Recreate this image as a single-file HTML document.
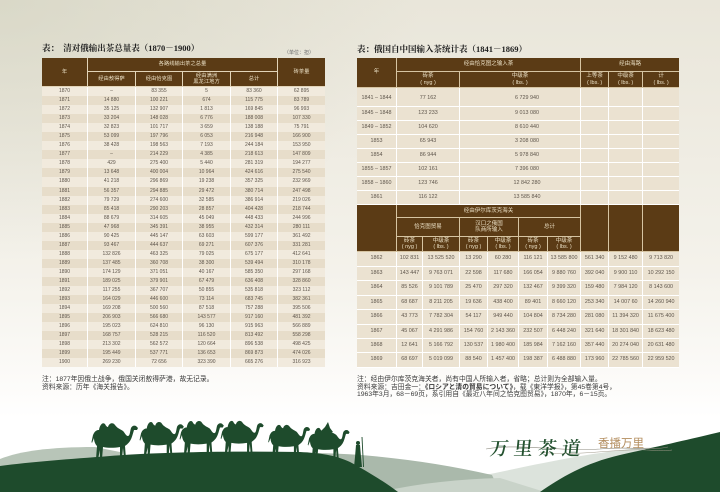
<!DOCTYPE html>
<html><head><meta charset="utf-8">
<style>
html,body{margin:0;padding:0}
body{width:720px;height:492px;overflow:hidden;position:relative;
background:
radial-gradient(ellipse 420px 260px at 0% 0%, rgba(205,205,185,0.55), rgba(205,205,185,0) 100%),
linear-gradient(180deg,#e9e6da 0%,#eeebe1 25%,#f4f2eb 55%,#fbfaf7 75%,#ffffff 85%,#ffffff 100%);
font-family:"Liberation Sans","Noto Sans CJK SC",sans-serif;}
.title{position:absolute;font-family:"Liberation Serif","Noto Serif CJK SC",serif;font-weight:bold;font-size:8.5px;color:#1e1e1e;white-space:nowrap;line-height:1}
table{position:absolute;border-collapse:separate;border-spacing:0;table-layout:fixed}
td,th{padding:0;text-align:center;vertical-align:middle;line-height:1;overflow:hidden;white-space:nowrap;font-weight:normal}
th{background:#5b3b15;color:#eadfc4}
#L th{font-size:5.3px;border-right:1px solid #e2d4b8;border-bottom:1px solid #e2d4b8;line-height:1.15}
#L th.lr{border-right:0}
#L td{font-size:5px;color:#5e554b;border-right:1px solid #fff}
#L td:last-child{border-right:0}
#L tr.a td{background:#f1eadd}
#L tr.b td{background:#e7ddca}
#L tr.d{height:9.05px}
.R th{font-size:5.5px;border-right:1px solid #d6c4a2;border-bottom:1px solid #d6c4a2;line-height:1.2}
.R th.lr{border-right:0}
.R td{font-size:5.4px;color:#5e554b;background:#ebe2d1;border-right:1px solid #fff;border-bottom:1px solid #fff}
.R td:last-child{border-right:0}
#R1 tr.d{height:14.05px}
#R1 tr.f{height:19px}
#R1 tr.f td{padding-top:4px}
#R2 tr.d{height:14.45px}
.note{position:absolute;font-size:6.8px;line-height:7.7px;color:#3a3a3a;white-space:nowrap}
</style></head><body>

<div class="title" style="left:42px;top:43.5px">表：&nbsp;&nbsp;清对俄输出茶总量表（1870－1900）</div>
<div style="position:absolute;left:284px;top:50.5px;font-size:5px;color:#6a6a6a;white-space:nowrap;line-height:1">（单位：担）</div>
<div class="title" style="left:357px;top:44.5px">表：俄国自中国输入茶统计表（1841－1869）</div>

<table id="L" style="left:42px;top:58px;width:283px">
<colgroup><col style="width:46px"><col style="width:48px"><col style="width:47px"><col style="width:48px"><col style="width:47px"><col style="width:47px"></colgroup>
<tr style="height:14px"><th rowspan="2">年</th><th colspan="4">各路线输出茶之总量</th><th rowspan="2" class="lr">砖茶量</th></tr>
<tr style="height:15px"><th>经由敖得萨</th><th>经由恰克图</th><th>经由满洲<br>黑龙江地方</th><th>总计</th></tr>
<tr class="d a"><td>1870</td><td>–</td><td>83 355</td><td>5</td><td>83 360</td><td>62 895</td></tr>
<tr class="d b"><td>1871</td><td>14 880</td><td>100 221</td><td>674</td><td>115 775</td><td>83 789</td></tr>
<tr class="d a"><td>1872</td><td>35 125</td><td>132 907</td><td>1 813</td><td>169 845</td><td>96 993</td></tr>
<tr class="d b"><td>1873</td><td>33 204</td><td>148 028</td><td>6 776</td><td>188 008</td><td>107 330</td></tr>
<tr class="d a"><td>1874</td><td>32 823</td><td>101 717</td><td>3 659</td><td>138 188</td><td>75 791</td></tr>
<tr class="d b"><td>1875</td><td>53 099</td><td>197 796</td><td>6 053</td><td>216 948</td><td>166 900</td></tr>
<tr class="d a"><td>1876</td><td>38 428</td><td>198 563</td><td>7 193</td><td>244 184</td><td>153 950</td></tr>
<tr class="d b"><td>1877</td><td>–</td><td>214 229</td><td>4 385</td><td>218 613</td><td>147 809</td></tr>
<tr class="d a"><td>1878</td><td>429</td><td>275 400</td><td>5 440</td><td>281 319</td><td>194 277</td></tr>
<tr class="d b"><td>1879</td><td>13 648</td><td>400 004</td><td>10 964</td><td>424 616</td><td>275 540</td></tr>
<tr class="d a"><td>1880</td><td>41 218</td><td>296 869</td><td>19 238</td><td>357 325</td><td>232 969</td></tr>
<tr class="d b"><td>1881</td><td>56 357</td><td>294 885</td><td>29 472</td><td>380 714</td><td>247 498</td></tr>
<tr class="d a"><td>1882</td><td>79 729</td><td>274 600</td><td>32 585</td><td>386 914</td><td>219 026</td></tr>
<tr class="d b"><td>1883</td><td>85 418</td><td>290 203</td><td>28 857</td><td>404 428</td><td>218 744</td></tr>
<tr class="d a"><td>1884</td><td>88 679</td><td>314 605</td><td>45 049</td><td>448 433</td><td>244 996</td></tr>
<tr class="d b"><td>1885</td><td>47 968</td><td>345 391</td><td>38 955</td><td>432 314</td><td>280 111</td></tr>
<tr class="d a"><td>1886</td><td>90 425</td><td>445 147</td><td>63 603</td><td>599 177</td><td>361 492</td></tr>
<tr class="d b"><td>1887</td><td>93 467</td><td>444 637</td><td>69 271</td><td>607 376</td><td>331 281</td></tr>
<tr class="d a"><td>1888</td><td>132 826</td><td>463 325</td><td>79 025</td><td>675 177</td><td>412 641</td></tr>
<tr class="d b"><td>1889</td><td>137 485</td><td>360 708</td><td>38 300</td><td>539 494</td><td>310 178</td></tr>
<tr class="d a"><td>1890</td><td>174 129</td><td>371 051</td><td>40 167</td><td>585 350</td><td>297 168</td></tr>
<tr class="d b"><td>1891</td><td>189 025</td><td>379 901</td><td>67 479</td><td>636 408</td><td>328 860</td></tr>
<tr class="d a"><td>1892</td><td>117 255</td><td>367 707</td><td>50 855</td><td>535 818</td><td>323 112</td></tr>
<tr class="d b"><td>1893</td><td>164 029</td><td>446 600</td><td>73 114</td><td>683 745</td><td>382 361</td></tr>
<tr class="d a"><td>1894</td><td>169 208</td><td>500 560</td><td>87 518</td><td>757 288</td><td>395 506</td></tr>
<tr class="d b"><td>1895</td><td>206 903</td><td>566 680</td><td>143 577</td><td>917 160</td><td>481 392</td></tr>
<tr class="d a"><td>1896</td><td>195 023</td><td>624 810</td><td>96 130</td><td>915 963</td><td>566 889</td></tr>
<tr class="d b"><td>1897</td><td>168 757</td><td>528 215</td><td>116 520</td><td>813 492</td><td>558 298</td></tr>
<tr class="d a"><td>1898</td><td>213 302</td><td>562 572</td><td>120 664</td><td>896 538</td><td>498 425</td></tr>
<tr class="d b"><td>1899</td><td>195 449</td><td>537 771</td><td>136 653</td><td>869 873</td><td>474 026</td></tr>
<tr class="d a"><td>1900</td><td>269 230</td><td>72 656</td><td>323 390</td><td>665 276</td><td>316 923</td></tr>
</table>

<table id="R1" class="R" style="left:357px;top:58px;width:322px">
<colgroup><col style="width:40px"><col style="width:26px"><col style="width:37px"><col style="width:28px"><col style="width:31px"><col style="width:29px"><col style="width:33px"><col style="width:28px"><col style="width:34px"><col style="width:36px"></colgroup>
<tr style="height:14px"><th rowspan="2">年</th><th colspan="6">经由恰克图之输入茶</th><th colspan="3" class="lr">经由海路</th></tr>
<tr style="height:16px"><th colspan="2">砖茶<br>( nyg )</th><th colspan="4">中级茶<br>( lbs. )</th><th>上等茶<br>( lbs. )</th><th>中级茶<br>( lbs. )</th><th class="lr">计<br>( lbs. )</th></tr>
<tr class="f"><td>1841 – 1844</td><td colspan="2">77 162</td><td colspan="4" style="padding-left:14px">6 729 940</td><td></td><td></td><td></td></tr>
<tr class="d"><td>1845 – 1848</td><td colspan="2">123 233</td><td colspan="4" style="padding-left:14px">9 013 080</td><td></td><td></td><td></td></tr>
<tr class="d"><td>1849 – 1852</td><td colspan="2">104 620</td><td colspan="4" style="padding-left:14px">8 610 440</td><td></td><td></td><td></td></tr>
<tr class="d"><td>1853</td><td colspan="2">65 943</td><td colspan="4" style="padding-left:14px">3 208 080</td><td></td><td></td><td></td></tr>
<tr class="d"><td>1854</td><td colspan="2">86 944</td><td colspan="4" style="padding-left:14px">5 978 840</td><td></td><td></td><td></td></tr>
<tr class="d"><td>1855 – 1857</td><td colspan="2">102 161</td><td colspan="4" style="padding-left:14px">7 396 080</td><td></td><td></td><td></td></tr>
<tr class="d"><td>1858 – 1860</td><td colspan="2">123 746</td><td colspan="4" style="padding-left:14px">12 842 280</td><td></td><td></td><td></td></tr>
<tr class="d"><td>1861</td><td colspan="2">116 122</td><td colspan="4" style="padding-left:14px">13 585 840</td><td></td><td></td><td></td></tr>
</table>

<table id="R2" class="R" style="left:357px;top:205.4px;width:322px">
<colgroup><col style="width:40px"><col style="width:26px"><col style="width:37px"><col style="width:28px"><col style="width:31px"><col style="width:29px"><col style="width:33px"><col style="width:28px"><col style="width:34px"><col style="width:36px"></colgroup>
<tr style="height:13px"><th rowspan="3"></th><th colspan="6">经由伊尔库茨克海关</th><th rowspan="3"></th><th rowspan="3"></th><th rowspan="3" class="lr"></th></tr>
<tr style="height:19px"><th colspan="2">恰克图贸易</th><th colspan="2">汉口之俄国<br>队商所输入</th><th colspan="2">总计</th></tr>
<tr style="height:15px"><th>砖茶<br>( nyg )</th><th>中级茶<br>( lbs. )</th><th>砖茶<br>( nyg )</th><th>中级茶<br>( lbs. )</th><th>砖茶<br>( nyg )</th><th>中级茶<br>( lbs. )</th></tr>
<tr class="d"><td>1862</td><td>102 831</td><td>13 525 520</td><td>13 290</td><td>60 280</td><td>116 121</td><td>13 585 800</td><td>561 340</td><td>9 152 480</td><td>9 713 820</td></tr>
<tr class="d"><td>1863</td><td>143 447</td><td>9 763 071</td><td>22 598</td><td>117 680</td><td>166 054</td><td>9 880 760</td><td>392 040</td><td>9 900 110</td><td>10 292 150</td></tr>
<tr class="d"><td>1864</td><td>85 526</td><td>9 101 789</td><td>25 470</td><td>297 320</td><td>132 467</td><td>9 399 320</td><td>159 480</td><td>7 984 120</td><td>8 143 600</td></tr>
<tr class="d"><td>1865</td><td>68 687</td><td>8 211 205</td><td>19 636</td><td>438 400</td><td>89 401</td><td>8 660 120</td><td>253 340</td><td>14 007 60</td><td>14 260 940</td></tr>
<tr class="d"><td>1866</td><td>43 773</td><td>7 782 304</td><td>54 117</td><td>949 440</td><td>104 804</td><td>8 734 280</td><td>281 080</td><td>11 394 320</td><td>11 675 400</td></tr>
<tr class="d"><td>1867</td><td>45 067</td><td>4 291 986</td><td>154 760</td><td>2 143 360</td><td>232 507</td><td>6 448 240</td><td>321 640</td><td>18 301 840</td><td>18 623 480</td></tr>
<tr class="d"><td>1868</td><td>12 641</td><td>5 166 792</td><td>130 537</td><td>1 980 400</td><td>185 984</td><td>7 162 160</td><td>357 440</td><td>20 274 040</td><td>20 631 480</td></tr>
<tr class="d"><td>1869</td><td>68 697</td><td>5 019 099</td><td>88 540</td><td>1 457 400</td><td>198 387</td><td>6 488 880</td><td>173 960</td><td>22 785 560</td><td>22 959 520</td></tr>
</table>

<div class="note" style="left:42px;top:376px">注：1877年因俄土战争，俄国关闭敖得萨港，故无记录。<br>资料来源：历年《海关报告》。</div>
<div class="note" style="left:357px;top:376px">注：经由伊尔库茨克海关者，尚有中国人所输入者，省略；总计则为全部输入量。<br>资料来源：吉田金一：<b>《ロシアと清の貿易について》</b>，载《東洋学报》，第45卷第4号，<br>1963年3月，68－69页，系引用自《最近八年间之恰克图贸易》，1870年，6－15页。</div>

<svg width="720" height="492" viewBox="0 0 720 492" style="position:absolute;left:0;top:0">
<defs>
<symbol id="camel" viewBox="0 0 48 40">
<path d="M4,14 C6,11 8,11 9,11 C10,5 13,3 15,5 C16,7 17,8 18,8 C19,4 23,3 25,6 C27,9 30,10 33,12 C35,14 36,17 38,17 C40,17 40,12 41,9 C42,7 44,6 46,7 L48,9 L47,11 L44,11 C43,14 42,19 40,22 C38,25 36,26 35,27 L36,40 L34,40 L33,29 L32,40 L30,40 L30,28 C24,29 18,29 13,28 L12,40 L10,40 L10,31 L8,40 L6,40 L7,27 C5,25 4,22 4,19 L2,24 L1.5,23 L3,16 Z" fill="#1e4b2c"/>
</symbol>
</defs>
<path d="M0,459 C20,451 50,447 95,447 L120,452 L120,475 L0,475 Z" fill="#b8c5b8"/>
<path d="M330,492 L330,468 C400,470 450,474 490,474 C530,466 580,454 640,448 L720,445 L720,492 Z" fill="#dce3dc"/>
<path d="M318,453 C370,454 430,461 492,475 L500,492 L318,492 Z" fill="#aab9ab"/>
<path d="M380,492 C420,483 460,479 500,478 L545,492 Z" fill="#c9d3c9"/>
<use href="#camel" x="90" y="419" width="48" height="40"/>
<use href="#camel" x="138" y="418" width="46" height="38"/>
<use href="#camel" x="178" y="417" width="46" height="38"/>
<use href="#camel" x="219" y="417" width="45" height="37"/>
<use href="#camel" x="266" y="421" width="45" height="36"/>
<use href="#camel" x="306" y="424" width="44" height="36"/>
<path d="M325,427 L328,422 L330,428 L333,432 L320,432 Z" fill="#1e4b2c"/>
<path d="M0,466 C30,462 70,459 110,456 C160,452 230,451 300,452 C320,453 335,455 350,462 C365,470 385,482 398,492 L0,492 Z" fill="#1e4b2c"/>
<path d="M540,492 C560,478 585,463 620,455 C660,446 695,438 720,432 L720,492 Z" fill="#1e4b2c"/>
<circle cx="358" cy="443" r="2" fill="#1e4b2c"/>
<path d="M356,445 L360,445 L361,457 L362,467 L354,467 L355,457 Z" fill="#1e4b2c"/>
<path d="M362,437 L363.5,467" stroke="#1e4b2c" stroke-width="0.9"/>
<path d="M486,449 C520,443 560,452 600,449 C630,446 650,451 668,447" stroke="#8c8a7e" stroke-width="0.6" fill="none"/>
<path d="M540,452 C570,456 600,451 630,450 C650,449 660,452 672,450" stroke="#a0998a" stroke-width="0.5" fill="none"/>
<text x="490" y="455" font-family="'Noto Serif CJK SC',serif" font-weight="600" font-size="19" letter-spacing="5" fill="#23512f" transform="skewX(-6) translate(47,0)">万里茶道</text>
<text x="598" y="447" font-family="'Noto Sans CJK SC',sans-serif" font-size="11.5" fill="#b38d5e">香播万里</text>
</svg>
</body></html>
